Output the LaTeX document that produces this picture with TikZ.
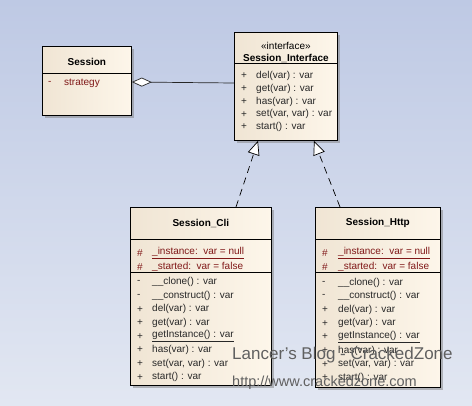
\documentclass[tikz,border=0pt]{standalone}
\usepackage{fontspec}
\setmainfont{Liberation Sans}
\usetikzlibrary{shadows,arrows.meta,calc}
\definecolor{umlbgtop}{RGB}{190,201,228}
\definecolor{umlbgbottom}{RGB}{226,231,242}
\definecolor{classleft}{RGB}{240,229,212}
\definecolor{classright}{RGB}{253,246,234}
\definecolor{attrred}{RGB}{128,24,24}
\definecolor{opgray}{RGB}{40,40,40}
\definecolor{markgray}{RGB}{96,96,96}

\newcommand\rowfont{\fontsize{10}{12}\selectfont}

\tikzset{
  umlclass/.style={draw=black, line width=0.8pt, left color=classleft, right color=classright,
    anchor=north west, inner sep=0pt,
    drop shadow={shadow xshift=3pt, shadow yshift=-3pt, fill=black!50, opacity=0.5}},
  classtitle/.style={inner sep=0pt, font=\rowfont\bfseries},
  stereo/.style={inner sep=0pt, font=\rowfont},
  member/.style={anchor=west, inner sep=0pt, font=\rowfont},
  attr/.style={member, text=attrred},
  oper/.style={member, text=opgray},
  sepline/.style={draw=black, line width=0.7pt},
  aggr/.style={{Diamond[fill=white,length=20pt,width=9pt]}-, line width=0.7pt, draw=black!85},
  realize/.style={-{Triangle[fill=white,length=14pt,width=12pt]}, dash pattern=on 7pt off 5pt, line width=0.7pt},
  watermark/.style={anchor=west, inner sep=0pt, text=markgray}
}

\begin{document}
\begin{tikzpicture}[x=1pt, y=-1pt]
    % background
    \shade[top color=umlbgtop, bottom color=umlbgbottom] (0,0) rectangle (472,405);
    \useasboundingbox (0,0) rectangle (472,405);

    % Session
    \node[umlclass, minimum width=89pt, minimum height=69pt] (session) at (42,46) {};
    \node[classtitle] (sessiontitle) at ($(session.north)+(0,16)$) {Session};
    \draw[sepline] ($(session.north west)+(0,27)$) -- ($(session.north east)+(0,27)$);
    \node[attr] (sessionvis) at ($(session.north west)+(6,37)$) {-};
    \node[attr] (sessionattr) at ($(session.north west)+(22,37)$) {strategy};

    % Session_Interface
    \node[umlclass, minimum width=103pt, minimum height=108pt] (iface) at (234,32) {};
    \node[stereo] (ifacestereo) at ($(iface.north)+(0,14)$) {«interface»};
    \node[classtitle] (ifacetitle) at ($(iface.north)+(0,26)$) {Session\_Interface};
    \draw[sepline] ($(iface.north west)+(0,31)$) -- ($(iface.north east)+(0,31)$);
    \foreach \op [count=\i] in {del(var) : var, get(var) : var, has(var) : var,
        {set(var, var) : var}, start() : var} {
      \node[oper] (ifacevis\i) at ($(iface.north west)+(7,{31.25+12.75*\i})$) {+};
      \node[oper] (ifaceop\i) at ($(iface.north west)+(22,{31.25+12.75*\i})$) {\op};
    }

    % Session_Cli
    \node[umlclass, minimum width=141pt, minimum height=178pt] (cli) at (130,207) {};
    \node[classtitle] (clititle) at ($(cli.north)+(0,16)$) {Session\_Cli};
    \draw[sepline] ($(cli.north west)+(0,32)$) -- ($(cli.north east)+(0,32)$);
    \draw[sepline] ($(cli.north west)+(0,65)$) -- ($(cli.north east)+(0,65)$);
    \node[attr] (clivisa) at ($(cli.north west)+(7,46)$) {\#};
    \node[attr] (cliattra) at ($(cli.north west)+(22,46)$) {\underline{\_instance:\ \ var = null}};
    \node[attr] (clivisb) at ($(cli.north west)+(7,60)$) {\#};
    \node[attr] (cliattrb) at ($(cli.north west)+(22,60)$) {\_started:\ \ var = false};
    \foreach \vis/\op [count=\i] in {-/\_\_clone() : var, -/\_\_construct() : var,
        +/del(var) : var, +/get(var) : var, +/\underline{getInstance() : var},
        +/has(var) : var, +/{set(var, var) : var}, +/start() : var} {
      \node[oper] (clivis\i) at ($(cli.north west)+(7,{61.4+13.6*\i})$) {\vis};
      \node[oper] (cliop\i) at ($(cli.north west)+(22,{61.4+13.6*\i})$) {\op};
    }

    % Session_Http
    \node[umlclass, minimum width=125pt, minimum height=180pt] (http) at (315,207) {};
    \node[classtitle] (httptitle) at ($(http.north)+(0,16)$) {Session\_Http};
    \draw[sepline] ($(http.north west)+(0,32)$) -- ($(http.north east)+(0,32)$);
    \draw[sepline] ($(http.north west)+(0,65)$) -- ($(http.north east)+(0,65)$);
    \node[attr] (httpvisa) at ($(http.north west)+(7,46)$) {\#};
    \node[attr] (httpattra) at ($(http.north west)+(23,46)$) {\underline{\_instance:\ \ var = null}};
    \node[attr] (httpvisb) at ($(http.north west)+(7,60)$) {\#};
    \node[attr] (httpattrb) at ($(http.north west)+(23,60)$) {\_started:\ \ var = false};
    \foreach \vis/\op [count=\i] in {-/\_\_clone() : var, -/\_\_construct() : var,
        +/del(var) : var, +/get(var) : var, +/\underline{getInstance() : var},
        +/has(var) : var, +/{set(var, var) : var}, +/start() : var} {
      \node[oper] (httpvis\i) at ($(http.north west)+(7,{62+13.6*\i})$) {\vis};
      \node[oper] (httpop\i) at ($(http.north west)+(23,{62+13.6*\i})$) {\op};
    }

    % relations
    \draw[aggr] ($(session.north east)+(0,36)$) -- ($(iface.north west)+(0,51)$);
    \draw[realize] ($(cli.north west)+(106,0)$) -- ($(iface.south west)+(24,0)$);
    \draw[realize] ($(http.north west)+(25,0)$) -- ($(iface.south west)+(80,0)$);

    % watermark
    \node[watermark, font=\fontsize{17}{20}\selectfont] (blogname) at (232,355) {Lancer's Blog - CrackedZone};
    \node[watermark, font=\fontsize{14.5}{17}\selectfont] (blogurl) at (232,383) {http://www.crackedzone.com};
\end{tikzpicture}
\end{document}
